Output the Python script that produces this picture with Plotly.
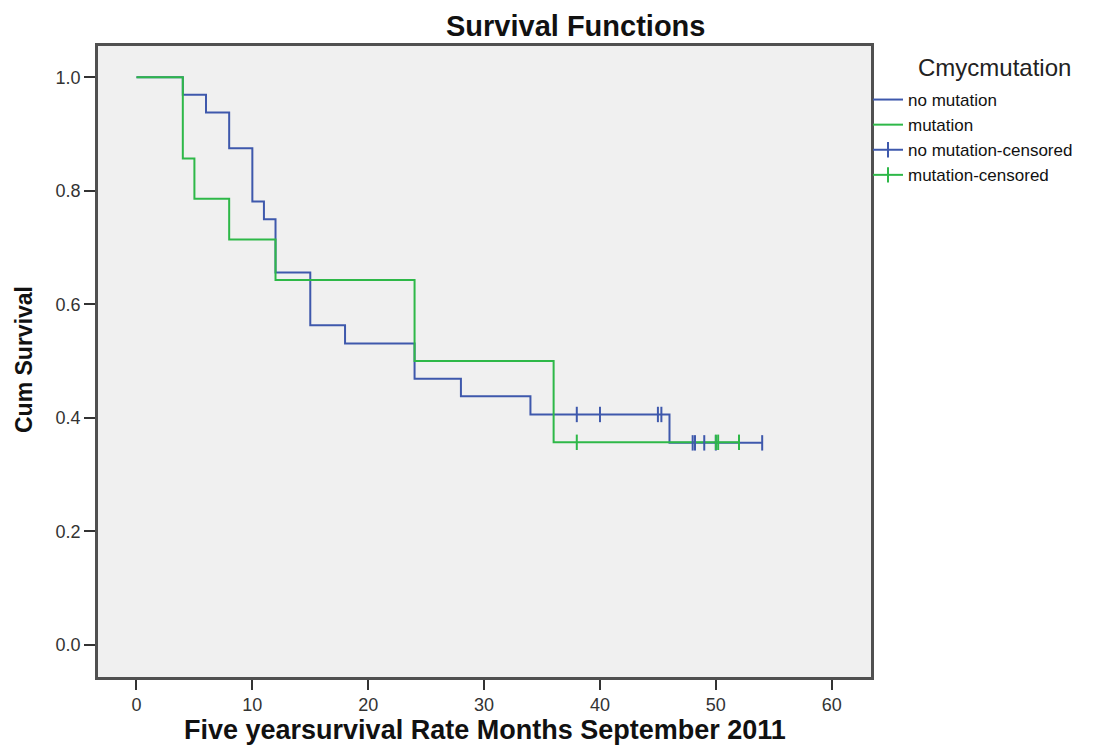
import plotly.graph_objects as go

# ---- data ----
no_mut_time = [0, 4, 6, 8, 10, 11, 12, 15, 18, 24, 28, 34, 46, 54]
no_mut_surv = [1.0, 0.969, 0.938, 0.875, 0.781, 0.75, 0.656, 0.563, 0.531, 0.469, 0.438, 0.406, 0.356, 0.356]

mut_time = [0, 4, 5, 8, 12, 24, 36, 52]
mut_surv = [1.0, 0.857, 0.786, 0.714, 0.643, 0.5, 0.357, 0.357]

no_mut_cens_time = [38, 40, 45, 45.3, 48, 48.2, 49, 50, 54]
no_mut_cens_surv = [0.406, 0.406, 0.406, 0.406, 0.356, 0.356, 0.356, 0.356, 0.356]

mut_cens_time = [38, 50, 50.2, 52]
mut_cens_surv = [0.357, 0.357, 0.357, 0.357]

series_names = ["no mutation", "mutation", "no mutation-censored", "mutation-censored"]
x_ticks = [0, 10, 20, 30, 40, 50, 60]
y_ticks = [0.0, 0.2, 0.4, 0.6, 0.8, 1.0]

BLUE = "#3E58AC"
GREEN = "#2EB848"
FONT = "Liberation Sans, Arial, sans-serif"

fig = go.Figure()

fig.add_trace(go.Scatter(x=no_mut_time, y=no_mut_surv, mode="lines", line=dict(shape="hv", color=BLUE, width=2),
                         showlegend=False, hoverinfo="skip"))
fig.add_trace(go.Scatter(x=mut_time, y=mut_surv, mode="lines", line=dict(shape="hv", color=GREEN, width=2),
                         showlegend=False, hoverinfo="skip"))
fig.add_trace(go.Scatter(x=no_mut_cens_time, y=no_mut_cens_surv, mode="markers",
                         marker=dict(symbol="line-ns", size=11, line=dict(color=BLUE, width=2)),
                         showlegend=False, hoverinfo="skip"))
fig.add_trace(go.Scatter(x=mut_cens_time, y=mut_cens_surv, mode="markers",
                         marker=dict(symbol="line-ns", size=11, line=dict(color=GREEN, width=2)),
                         showlegend=False, hoverinfo="skip"))

# legend entries
fig.add_trace(go.Scatter(x=[None], y=[None], mode="lines", name=series_names[0],
                         line=dict(color=BLUE, width=2)))
fig.add_trace(go.Scatter(x=[None], y=[None], mode="lines", name=series_names[1],
                         line=dict(color=GREEN, width=2)))
fig.add_trace(go.Scatter(x=[None], y=[None], mode="lines+markers", name=series_names[2],
                         line=dict(color=BLUE, width=2),
                         marker=dict(symbol="line-ns", size=11, line=dict(color=BLUE, width=2))))
fig.add_trace(go.Scatter(x=[None], y=[None], mode="lines+markers", name=series_names[3],
                         line=dict(color=GREEN, width=2),
                         marker=dict(symbol="line-ns", size=11, line=dict(color=GREEN, width=2))))

OFF = 8  # page body margin
PAGE_W, PAGE_H = 1119, 749
W, H = PAGE_W - OFF, PAGE_H - OFF
# plot area in page pixels: x 98..871, y 46..677
L, T = 98 - OFF, 46 - OFF
R = PAGE_W - 871
B = PAGE_H - 677
pw, ph = W - L - R, H - T - B

def px(x):
    return (x - OFF - L) / pw

def py(y):
    return (H - B - (y - OFF)) / ph

fig.update_layout(
    width=W, height=H,
    margin=dict(l=L, r=R, t=T, b=B, autoexpand=False),
    paper_bgcolor="white",
    plot_bgcolor="#F0F0F0",
    font=dict(family=FONT, color="#222"),
    showlegend=True,
    legend=dict(x=px(868), y=py(82), xanchor="left", yanchor="top",
                font=dict(family=FONT, size=17, color="#111"),
                bgcolor="rgba(0,0,0,0)", tracegroupgap=0, itemwidth=30),
    annotations=[
        dict(text="<b>Survival Functions</b>", x=px(575), y=py(26), xref="paper", yref="paper",
             showarrow=False, font=dict(family=FONT, size=29, color="#111"), xanchor="center", yanchor="middle"),
        dict(text="<b>Five yearsurvival Rate Months September 2011</b>", x=px(485), y=py(730),
             xref="paper", yref="paper", showarrow=False,
             font=dict(family=FONT, size=27, color="#111"), xanchor="center", yanchor="middle"),
        dict(text="<b>Cum Survival</b>", x=px(24), y=py(360), xref="paper", yref="paper",
             showarrow=False, textangle=-90,
             font=dict(family=FONT, size=23, color="#111"), xanchor="center", yanchor="middle"),
        dict(text="Cmycmutation", x=px(916), y=py(67), xref="paper", yref="paper",
             showarrow=False, font=dict(family=FONT, size=24, color="#222"),
             xanchor="left", yanchor="middle"),
    ],
)

fig.update_xaxes(range=[-3.32, 63.39], tickvals=x_ticks, ticktext=[str(v) for v in x_ticks],
                 showgrid=False, zeroline=False, showline=True, mirror=True,
                 linecolor="#505050", linewidth=2.5, ticks="outside", ticklen=10, tickwidth=2,
                 tickcolor="#333", tickfont=dict(family=FONT, size=18, color="#333"))
fig.update_yaxes(range=[-0.0564, 1.055], tickvals=y_ticks, ticktext=[f"{v:.1f}" for v in y_ticks],
                 showgrid=False, zeroline=False, showline=True, mirror=True,
                 linecolor="#505050", linewidth=2.5, ticks="outside", ticklen=11, tickwidth=2,
                 tickcolor="#333", tickfont=dict(family=FONT, size=18, color="#333"))

fig.write_html("out.html")
